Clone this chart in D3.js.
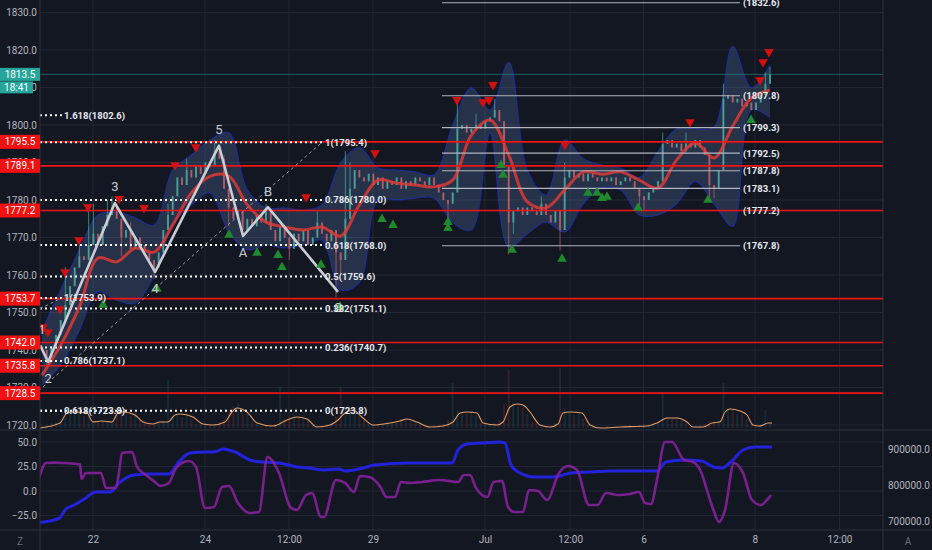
<!DOCTYPE html>
<html><head><meta charset="utf-8">
<script src="https://cdn.jsdelivr.net/npm/d3@7"></script>
<style>
html,body{margin:0;padding:0;background:#131722;}
svg{display:block;font-family:Roboto,"Liberation Sans",sans-serif;}
</style></head><body>
<svg id="chart" width="932" height="550"></svg>
<script>
// ---------- price bars (2-hour bars, x unit = session day) ----------
const firstBarDay = -0.91;
const barsPerDay = 12;
const firstOpen = 1741;
const closes = [
  1740,1738,1741,1744,1748,1752,1757,1762,1765,1764,
  1768,1771,1768,1773,1776,1778,1775,1770,1772,1767,
  1770,1768,1766,1764,1762,1766,1772,1776,1781,1786,
  1784,1788,1786,1789,1787,1790,1789,1793,1791,1783,
  1778,1775,1777,1772,1775,1773,1776,1774,1777,1772,
  1769,1773,1770,1767,1771,1769,1772,1768,1770,1774,
  1771,1769,1772,1766,1764,1775,1783,1788,1786,1785,
  1787,1784,1786,1783,1785,1784,1786,1783,1785,1784,
  1786,1785,1784,1786,1784,1782,1780,1779,1782,1799,
  1800,1798,1799,1800,1799,1801,1802,1804,1801,1789,
  1774,1777,1778,1776,1778,1777,1776,1779,1776,1774,
  1777,1772,1786,1788,1786,1787,1785,1787,1786,1785,
  1786,1785,1786,1784,1785,1786,1785,1783,1781,1780,
  1782,1783,1785,1795,1796,1794,1795,1793,1795,1794,
  1796,1794,1792,1784,1783,1788,1807,1808,1806,1807,
  1805,1806,1804,1806,1808,1811,1813.5
];
// [bar index, extreme price]
const wickHigh = [[5,1762],[8,1768],[10,1778],[11,1779],[14,1780],[15,1781],[19,1774],[27,1779],
  [31,1791],[37,1796],[39,1792],[48,1779],[59,1777],[65,1793],[66,1790],[89,1806],[93,1803],
  [97,1807],[107,1781],[112,1790],[133,1798],[138,1798],[146,1811],[155,1814],[156,1815.5]];
const wickLow = [[1,1735.5],[17,1765],[24,1759],[25,1762],[40,1773],[53,1764],[63,1754],[64,1760],
  [87,1775],[100,1765.5],[101,1771],[111,1766.5],[128,1777.5],[129,1777],[143,1780],[144,1780.5]];
const volumes = [
  200,300,500,600,800,1400,1800,1500,1900,1200,
  1500,500,700,800,600,500,1700,1900,1400,1200,
  1500,800,500,400,300,600,700,4800,1200,1500,
  1100,1300,900,400,300,500,300,400,600,800,
  1700,2200,2500,1800,1500,700,400,200,300,200,
  400,4100,900,1100,1300,1000,900,800,300,200,
  200,400,500,1200,4100,2000,1700,1600,1200,800,
  500,300,400,500,600,500,800,900,1000,700,
  500,400,200,100,200,300,400,800,4500,1800,
  1600,1500,1700,1200,500,400,300,500,800,2400,
  5800,2600,2200,2000,1400,600,300,200,100,200,
  500,6000,2000,1500,1300,1400,900,300,200,100,
  100,200,100,200,100,200,300,200,300,400,
  300,500,700,3600,1000,900,1100,700,500,200,
  100,200,400,700,600,800,4500,2000,1800,1500,
  1400,900,300,200,400,1800,600
];
// volume moving average [day, volume]
const volumeAvg = [[-0.946,0],[-0.589,500],[-0.464,1500],[-0.357,1600],[-0.107,1500],[0,600],[0.161,700],
  [0.339,600],[0.446,1500],[0.536,1600],[0.75,1300],[0.893,600],[1.071,400],[1.196,600],[1.339,600],
  [1.464,1300],[1.554,1400],[1.786,1100],[1.964,400],[2.143,300],[2.357,600],[2.482,1600],[2.571,2000],
  [2.75,1600],[2.929,500],[3.214,200],[3.464,800],[3.643,1100],[3.821,900],[4.0,100],[4.232,300],
  [4.375,800],[4.5,1500],[4.643,1800],[4.821,1000],[5.0,300],[5.304,500],[5.482,700],[5.607,900],
  [5.786,600],[6.018,100],[6.25,200],[6.429,600],[6.554,1500],[6.679,1600],[6.857,1500],[6.964,500],
  [7.214,300],[7.321,600],[7.446,2100],[7.571,2400],[7.679,2300],[7.804,1600],[7.982,300],[8.161,100],
  [8.304,400],[8.393,1500],[8.518,1600],[8.732,1500],[8.875,300],[9.054,0],[9.411,100],[9.893,200],
  [10.071,500],[10.25,1000],[10.429,1000],[10.607,600],[10.714,100],[10.893,100],[11.054,500],
  [11.196,600],[11.286,1600],[11.375,1900],[11.554,1700],[11.679,1300],[11.786,300],[11.911,200],
  [12.054,500],[12.125,500]];

// ---------- moving average and envelope, one value every 4 bars ----------
const bandStep = 4;
const maValues = [1733.3,1741.3,1751.5,1764.5,1763.5,1767.2,1766.1,1773.3,1781.9,1786.3,
  1786.4,1778.7,1774.1,1772.8,1772,1772.8,1770.4,1778.7,1785.3,1784.5,
  1784,1783.5,1785.3,1797.3,1801.3,1792,1779.5,1777.9,1782.7,1787.5,
  1786.9,1787.5,1785.3,1783.2,1790.7,1795.2,1791.2,1799.7,1807.2,1809.3];
const bandUpper = [1745.3,1756,1766.7,1776,1776.8,1775.2,1773.3,1788,1792,1796,
  1797.9,1782.7,1777.9,1777.9,1777.3,1778.7,1790,1794,1788.5,1788,
  1787.5,1786.7,1800,1809.9,1804,1816.8,1788,1781.3,1796,1791,
  1789.3,1788.5,1786,1793,1799,1799,1799.5,1821,1809.9,1816];
const bandLower = [1730.7,1736,1745.3,1755.5,1753.3,1752.5,1760,1773.3,1778.7,1781.9,
  1771.5,1766.7,1768,1767.2,1768,1769.3,1756,1758,1780,1780,
  1780.5,1780.5,1774,1772,1797.9,1767.5,1771,1774.1,1771.5,1779,
  1783.2,1782.7,1776,1776,1779,1785,1779,1773,1804,1802];

// ---------- signals [day, price] ----------
const sellSignals = [[-0.893,1746.1],[-0.804,1744.8],[-0.589,1750.9],[-0.5,1760.8],[-0.25,1769.3],
  [-0.089,1778.1],[0.464,1780.3],[0.911,1777.9],[1.464,1789.3],[1.839,1794.1],[3.804,1780.8],
  [5.036,1792.5],[6.5,1806.7],[6.964,1806.1],[7.071,1806.7],[7.143,1810.7],[8.429,1794.7],
  [10.661,1800.8],[11.911,1812],[11.964,1816.8],[12.071,1819.5]];
const buySignals = [[0.179,1752],[1.143,1756.3],[2.429,1770.7],[2.929,1765.9],[3.304,1765.3],
  [3.375,1762.1],[4.071,1762.7],[4.411,1751.5],[5.161,1774.9],[5.357,1773.3],[6.339,1774.1],
  [6.339,1772.5],[7.286,1789.3],[7.321,1786.7],[7.482,1766.7],[8.375,1764.3],[8.839,1781.9],
  [9.0,1781.9],[9.089,1780.5],[9.179,1780.8],[9.732,1777.9],[10.982,1780],[11.75,1801.3]];

// ---------- wave count [day, price, label, label side] ----------
const wavePoints = [[-0.946,1741.3,"1",-1],[-0.80,1736.8,"2",1],[0.39,1779.2,"3",-1],[1.11,1760.8,"4",1],
  [2.25,1794.5,"5",-1],[2.68,1770.4,"A",1],[3.125,1778.1,"B",-1],[4.375,1755.5,"C",1]];

// ---------- levels ----------
const srLevels = [1795.5, 1789.1, 1777.2, 1753.7, 1742.0, 1735.8, 1728.5];
const retraceLevels = [["1",1795.4],["0.786",1780.0],["0.618",1768.0],["0.5",1759.6],["0.382",1751.1],["0.236",1740.7],["0",1723.8]];
const retraceSpan = [-0.946, 4.09];
const extensionLevels = [["1.618",1802.6],["1",1753.9],["0.786",1737.1],["0.618",1723.8]];
const extensionSpan = [-0.946, -0.554];
const rightFibLevels = [1832.6, 1807.8, 1799.3, 1792.5, 1787.8, 1783.1, 1777.2, 1767.8];
const rightFibSpan = [6.232, 11.554];
const trendLines = [[[-1.375,1723.8],[4.09,1795.4]], [[-0.95,1751.0],[-0.555,1753.9]]];
const lastPrice = 1813.5;
const countdown = "18:41";

// ---------- lower pane ----------
const oscillator = [[-0.971,11.2],[-0.839,28.6],[-0.705,28.9],[-0.554,28.6],[-0.286,27.6],[-0.232,27.2],
  [-0.205,12.2],[-0.125,18.4],[0.143,18.4],[0.232,3.1],[0.411,3.1],[0.464,18.4],[0.518,38.8],[0.696,39.8],
  [0.786,24.5],[0.946,16.3],[1.107,9.2],[1.205,5.1],[1.357,8.2],[1.464,21.4],[1.625,29.6],[1.714,30.6],
  [1.839,24.5],[2.0,-17.3],[2.161,-16.3],[2.304,4.1],[2.429,5.1],[2.589,-12.2],[2.804,-22.4],[2.964,-21.4],
  [3.116,34.7],[3.321,18.4],[3.536,-17.3],[3.643,-19.4],[3.804,-4.1],[3.911,-2.0],[4.071,-26.5],[4.125,-26.5],
  [4.339,11.2],[4.5,8.2],[4.661,-1.0],[4.768,15.3],[4.929,14.3],[5.134,4.1],[5.241,-6.1],[5.393,-6.1],
  [5.5,9.2],[5.661,8.2],[5.875,9.2],[6.196,11.2],[6.518,9.2],[6.625,16.3],[6.732,16.3],[6.839,3.1],
  [6.946,-4.1],[7.045,-6.1],[7.152,9.2],[7.304,10.2],[7.411,-16.3],[7.518,-21.4],[7.679,-21.4],[7.786,1.0],
  [7.946,0],[8.107,-9.2],[8.321,18.4],[8.482,25.5],[8.643,21.4],[8.857,-14.3],[9.009,-14.3],[9.161,-2.0],
  [9.375,-4.1],[9.589,-3.1],[9.75,-1.0],[9.857,-12.2],[9.964,-13.3],[10.071,11.2],[10.214,50.0],[10.339,50.0],
  [10.554,31.6],[10.714,29.6],[10.866,18.4],[10.973,-1.0],[11.08,-19.4],[11.179,-31.6],[11.286,-19.4],
  [11.446,28.6],[11.607,18.4],[11.768,-9.2],[11.929,-14.3],[12.036,-9.2],[12.107,-4.1]];
const cumulative = [[-0.971,695300],[-0.598,708300],[-0.5,730600],[-0.339,744400],[-0.125,763900],
  [0.036,780600],[0.304,780600],[0.464,805600],[0.732,827800],[1.0,830600],[1.357,830600],[1.518,861100],
  [1.732,888900],[2.0,891700],[2.161,891700],[2.321,900000],[2.536,891700],[2.804,869400],[3.018,863900],
  [3.321,861100],[3.643,850000],[3.857,847200],[4.125,841700],[4.393,844400],[4.5,838900],[4.821,847200],
  [5.036,855600],[5.661,861100],[6.411,861100],[6.518,897200],[6.679,913900],[6.946,916700],[7.259,919400],
  [7.357,916700],[7.464,855600],[7.625,833300],[7.893,822200],[8.214,822200],[8.536,833300],[8.857,836100],
  [9.268,838900],[9.696,838900],[10.071,838900],[10.232,863900],[10.554,869400],[10.866,866700],
  [11.08,850000],[11.232,847200],[11.393,863900],[11.607,897200],[11.821,905600],[12.125,905600]];

// ---------- axes ----------
const priceTicks = [1720,1730,1740,1750,1760,1770,1780,1790,1800,1810,1820,1830];
const oscTicks = [50,25,0,-25];
const cumulativeTicks = [900000,800000,700000];
const timeTicks = [0,2,3.5,5,7,8.52,9.83,11.82,13.33];
const timeLabels = ["22","24","12:00","29","Jul","12:00","6","8","12:00"];

// ================= drawing =================
const W = 932, H = 550;
const plotL = 40, plotR = 883, mainT = 0, mainB = 430, lowT = 430, lowB = 530;
const svg = d3.select("#chart");
const bg = "#131722", gridC = "#232733", textC = "#b2b5be";

svg.append("rect").attr("width", W).attr("height", H).attr("fill", bg);

const x = d3.scaleLinear().domain([-0.946, 14.107]).range([plotL, plotR]);
const y = d3.scaleLinear().domain([1718.667, 1833.333]).range([mainB, mainT]);
const yv = d3.scaleLinear().domain([0, 10000]).range([428, 328]);
const yo = d3.scaleLinear().domain([-39.8, 62.2]).range([lowB, lowT]);
const yc = d3.scaleLinear().domain([675000, 952778]).range([lowB, lowT]);
const barDay = i => firstBarDay + i / barsPerDay;

const defs = svg.append("defs");
defs.append("clipPath").attr("id", "mainClip").append("rect")
  .attr("x", plotL).attr("y", mainT).attr("width", plotR - plotL).attr("height", mainB - mainT);
defs.append("clipPath").attr("id", "lowClip").append("rect")
  .attr("x", plotL).attr("y", lowT).attr("width", plotR - plotL).attr("height", lowB - lowT);

// grid
const grid = svg.append("g");
grid.selectAll(".vg").data(timeTicks).join("line")
  .attr("x1", d => x(d)).attr("x2", d => x(d)).attr("y1", 0).attr("y2", lowB)
  .attr("stroke", gridC).attr("stroke-width", 1);
grid.selectAll(".hg").data(priceTicks).join("line")
  .attr("x1", plotL).attr("x2", plotR).attr("y1", d => y(d)).attr("y2", d => y(d))
  .attr("stroke", gridC);
grid.selectAll(".og").data(oscTicks).join("line")
  .attr("x1", plotL).attr("x2", plotR).attr("y1", d => yo(d)).attr("y2", d => yo(d))
  .attr("stroke", gridC);

const main = svg.append("g").attr("clip-path", "url(#mainClip)");

// build OHLC from closes
const bars = closes.map((c, i) => {
  const o = i === 0 ? firstOpen : closes[i - 1];
  return { i, o, c, h: Math.max(o, c), l: Math.min(o, c), v: volumes[i] };
});
wickHigh.forEach(([i, p]) => { bars[i].h = Math.max(bars[i].h, p); });
wickLow.forEach(([i, p]) => { bars[i].l = Math.min(bars[i].l, p); });

// volume
main.append("g").selectAll("rect").data(bars).join("rect")
  .attr("x", d => x(barDay(d.i)) - 1).attr("width", 2)
  .attr("y", d => yv(d.v)).attr("height", d => yv(0) - yv(d.v))
  .attr("fill", d => d.c >= d.o ? "#26a69a" : "#ef5350").attr("opacity", 0.14);
main.append("path").datum(volumeAvg)
  .attr("d", d3.line().x(d => x(d[0])).y(d => yv(d[1])).curve(d3.curveMonotoneX))
  .attr("fill", "none").attr("stroke", "#e39a62").attr("stroke-width", 1.1);

// envelope
const band = maValues.map((m, k) => ({ t: barDay(k * bandStep), u: bandUpper[k], l: bandLower[k] }));
main.append("path").datum(band)
  .attr("d", d3.area().x(d => x(d.t)).y0(d => y(d.l)).y1(d => y(d.u)).curve(d3.curveCatmullRom))
  .attr("fill", "#5a7fb8").attr("fill-opacity", 0.26);
["u", "l"].forEach(key => {
  main.append("path").datum(band)
    .attr("d", d3.line().x(d => x(d.t)).y(d => y(d[key])).curve(d3.curveCatmullRom))
    .attr("fill", "none").attr("stroke", "#1e2fb0").attr("stroke-width", 1.2).attr("opacity", 0.75);
});

// candles
const upC = "#4fa79c", downC = "#b9606b";
const cg = main.append("g");
cg.selectAll("line").data(bars).join("line")
  .attr("x1", d => x(barDay(d.i))).attr("x2", d => x(barDay(d.i)))
  .attr("y1", d => y(d.h)).attr("y2", d => y(d.l))
  .attr("stroke", d => d.c >= d.o ? upC : downC).attr("stroke-width", 1).attr("opacity", 0.75);
cg.selectAll("rect").data(bars).join("rect")
  .attr("x", d => x(barDay(d.i)) - 1).attr("width", 2)
  .attr("y", d => y(Math.max(d.o, d.c)))
  .attr("height", d => Math.max(1, Math.abs(y(d.o) - y(d.c))))
  .attr("fill", d => d.c >= d.o ? upC : downC).attr("opacity", 0.8);

// moving average
main.append("path").datum(band.map((b, k) => [b.t, maValues[k]]))
  .attr("d", d3.line().x(d => x(d[0])).y(d => y(d[1])).curve(d3.curveCatmullRom))
  .attr("fill", "none").attr("stroke", "#e53935").attr("stroke-width", 3).attr("opacity", 0.82);

// right fib levels
main.append("g").selectAll("line").data(rightFibLevels).join("line")
  .attr("x1", x(rightFibSpan[0])).attr("x2", x(rightFibSpan[1]))
  .attr("y1", d => y(d)).attr("y2", d => y(d))
  .attr("stroke", "#b2b5be").attr("stroke-width", 1.2);

// last price line
main.append("line").attr("x1", plotL).attr("x2", plotR)
  .attr("y1", y(lastPrice)).attr("y2", y(lastPrice))
  .attr("stroke", "#26a69a").attr("stroke-width", 1).attr("opacity", 0.5);

// support / resistance
main.append("g").selectAll("line").data(srLevels).join("line")
  .attr("x1", plotL).attr("x2", plotR).attr("y1", d => y(d)).attr("y2", d => y(d))
  .attr("stroke", "#f01414").attr("stroke-width", 1.6);

// fib retracement / extension dotted lines
function dotted(levels, span) {
  main.append("g").selectAll("line").data(levels).join("line")
    .attr("x1", x(span[0])).attr("x2", x(span[1]))
    .attr("y1", d => y(d[1])).attr("y2", d => y(d[1]))
    .attr("stroke", "#ffffff").attr("stroke-width", 2).attr("stroke-dasharray", "2 3");
}
dotted(retraceLevels, retraceSpan);
dotted(extensionLevels, extensionSpan);
trendLines.forEach(tl => {
  main.append("line")
    .attr("x1", x(tl[0][0])).attr("y1", y(tl[0][1])).attr("x2", x(tl[1][0])).attr("y2", y(tl[1][1]))
    .attr("stroke", "#9598a1").attr("stroke-width", 1).attr("stroke-dasharray", "3 3");
});

// wave count
main.append("path").datum(wavePoints)
  .attr("d", d3.line().x(d => x(d[0])).y(d => y(d[1])))
  .attr("fill", "none").attr("stroke", "#c9ccd3").attr("stroke-width", 2.6).attr("stroke-linejoin", "round");

// signals
const tri = d3.symbol(d3.symbolTriangle, 40)();
main.append("g").selectAll("path").data(sellSignals).join("path")
  .attr("d", tri).attr("transform", d => `translate(${x(d[0])},${y(d[1])}) rotate(180)`)
  .attr("fill", "#d31010");
main.append("g").selectAll("path").data(buySignals).join("path")
  .attr("d", tri).attr("transform", d => `translate(${x(d[0])},${y(d[1])})`)
  .attr("fill", "#1e8a2c");

// wave labels (kept inside the pane at the left edge)
main.append("g").selectAll("text").data(wavePoints).join("text")
  .attr("x", d => Math.max(x(d[0]), plotL + 2)).attr("y", d => y(d[1]) + d[3] * 16)
  .attr("text-anchor", "middle").attr("dominant-baseline", "central")
  .attr("font-size", 13).attr("fill", "#c9ccd3").text(d => d[2]);

// fib labels
const fibFont = 9.5;
main.append("g").selectAll("text").data(retraceLevels).join("text")
  .attr("x", x(retraceSpan[1]) + 3).attr("y", d => y(d[1])).attr("dominant-baseline", "central")
  .attr("font-size", fibFont).attr("font-weight", "bold").attr("fill", "#e6e8ee")
  .text(d => `${d[0]}(${d[1].toFixed(1)})`);
main.append("g").selectAll("text").data(extensionLevels).join("text")
  .attr("x", x(extensionSpan[1]) + 2).attr("y", d => y(d[1])).attr("dominant-baseline", "central")
  .attr("font-size", fibFont).attr("font-weight", "bold").attr("fill", "#e6e8ee")
  .text(d => `${d[0]}(${d[1].toFixed(1)})`);
main.append("g").selectAll("text").data(rightFibLevels).join("text")
  .attr("x", x(rightFibSpan[1]) + 3).attr("y", d => y(d)).attr("dominant-baseline", "central")
  .attr("font-size", fibFont).attr("font-weight", "bold").attr("fill", "#e6e8ee")
  .text(d => `(${d.toFixed(1)})`);

// lower pane
const low = svg.append("g").attr("clip-path", "url(#lowClip)");
low.append("path").datum(cumulative)
  .attr("d", d3.line().x(d => x(d[0])).y(d => yc(d[1])).curve(d3.curveMonotoneX))
  .attr("fill", "none").attr("stroke", "#2222dd").attr("stroke-width", 3);
low.append("path").datum(oscillator)
  .attr("d", d3.line().x(d => x(d[0])).y(d => yo(d[1])).curve(d3.curveMonotoneX))
  .attr("fill", "none").attr("stroke", "#86209a").attr("stroke-width", 2.6).attr("opacity", 0.9);

// frame lines
const frameC = "#2e323d";
svg.append("line").attr("x1", plotL).attr("x2", plotL).attr("y1", 0).attr("y2", H).attr("stroke", frameC);
svg.append("line").attr("x1", plotR).attr("x2", plotR).attr("y1", 0).attr("y2", H).attr("stroke", frameC);
svg.append("line").attr("x1", 0).attr("x2", W).attr("y1", mainB).attr("y2", mainB).attr("stroke", frameC);
svg.append("line").attr("x1", 0).attr("x2", W).attr("y1", lowB).attr("y2", lowB).attr("stroke", frameC);

// axes
function styleAxis(g) {
  g.select(".domain").remove();
  g.selectAll("text").attr("fill", textC).attr("font-size", 10).attr("font-family", "Roboto,sans-serif");
}
svg.append("g").attr("transform", `translate(${plotL - 3},0)`)
  .call(d3.axisLeft(y).tickValues(priceTicks).tickSize(0).tickPadding(0).tickFormat(d3.format(".1f")))
  .call(styleAxis);
svg.append("g").attr("transform", `translate(${plotL - 3},0)`)
  .call(d3.axisLeft(yo).tickValues(oscTicks).tickSize(0).tickPadding(0).tickFormat(d3.format(".1f")))
  .call(styleAxis);
svg.append("g").attr("transform", `translate(${plotR + 5},0)`)
  .call(d3.axisRight(yc).tickValues(cumulativeTicks).tickSize(0).tickPadding(0).tickFormat(d3.format(".1f")))
  .call(styleAxis);
svg.append("g").attr("transform", `translate(0,${lowB})`)
  .call(d3.axisBottom(x).tickValues(timeTicks).tickSize(0).tickPadding(6).tickFormat((d, i) => timeLabels[i]))
  .call(styleAxis);
svg.append("text").attr("x", 20).attr("y", 541).attr("text-anchor", "middle").attr("dominant-baseline", "central")
  .attr("font-size", 10).attr("fill", "#6a6d78").text("Z");
svg.append("text").attr("x", 908).attr("y", 541).attr("text-anchor", "middle").attr("dominant-baseline", "central")
  .attr("font-size", 10).attr("fill", "#6a6d78").text("A");

// price tags on the scale
const tags = svg.append("g");
function tag(v, fill, text, w, dy, h) {
  tags.append("rect").attr("x", 0).attr("y", y(v) - h / 2 + dy).attr("width", w).attr("height", h).attr("fill", fill);
  tags.append("text").attr("x", w / 2).attr("y", y(v) + dy).attr("text-anchor", "middle")
    .attr("dominant-baseline", "central").attr("font-size", 10).attr("fill", "#ffffff").text(text);
}
srLevels.forEach(v => tag(v, "#f21010", v.toFixed(1), 40, 0, 14));
tag(lastPrice, "#26a69a", lastPrice.toFixed(1), 40, 0, 13);
tag(lastPrice, "#26a69a", countdown, 33, 13, 12);
</script>
</body></html>
